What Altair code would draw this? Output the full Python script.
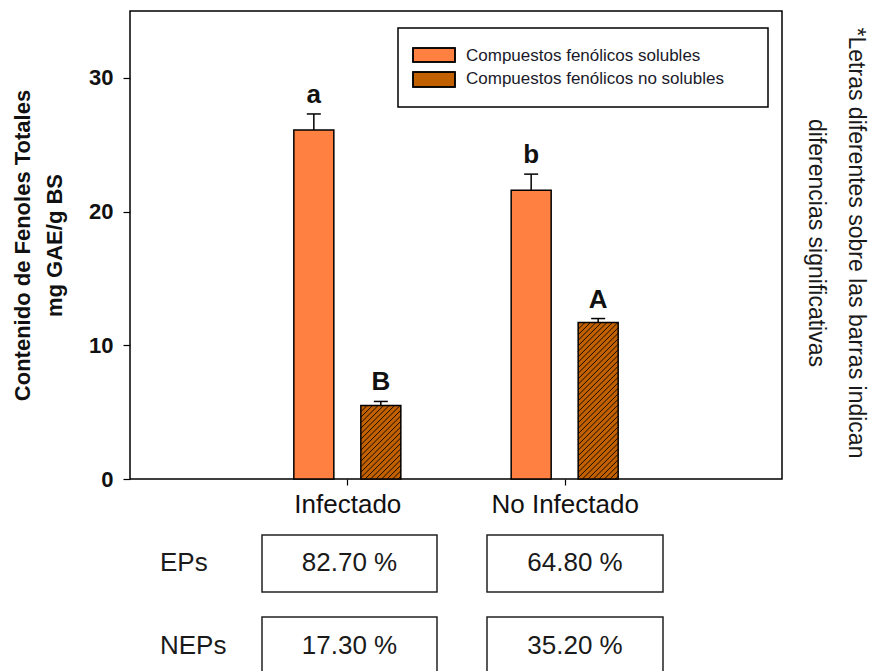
import json
import altair as alt
import pandas as pd

# ---------------- data ----------------
categories = ["Infectado", "No Infectado"]
series = ["Compuestos fenólicos solubles", "Compuestos fenólicos no solubles"]
soluble = [26.1, 21.6]
soluble_err = [1.2, 1.2]
insoluble = [5.5, 11.7]
insoluble_err = [0.3, 0.3]
letters_soluble = ["a", "b"]
letters_insoluble = ["B", "A"]
row_labels = ["EPs", "NEPs"]
eps_pct = ["82.70 %", "64.80 %"]
neps_pct = ["17.30 %", "35.20 %"]
y_ticks = [0, 10, 20, 30]
y_title = ["Contenido de Fenoles Totales", "mg GAE/g BS"]
side_note = ["*Letras diferentes sobre las barras indican", "diferencias significativas"]

# ---------------- layout / style ----------------
W, H = 652, 468
YMAX, XMAX = 35, 3
ux, uy = XMAX / W, YMAX / H
FONT = "Liberation Sans"
ORANGE, BROWN = "#ff8040", "#c06000"
BAR_W, OFF, CAP = 40, 33.5, 14
HATCH = 5.5


def X(px):
    return px * ux


def Y(py_down):
    return (H - py_down) * uy


def hatch(L, R, B, T, s):
    """diagonal '/' segments in a rectangle, pixel coords with y up"""
    w, h = R - L, T - B
    segs = []
    c = -w + (s / 2)
    while c < h:
        a = max(0.0, -c)
        b = min(w, h - c)
        if b > a:
            segs.append((L + a, B + a + c, L + b, B + b + c))
        c += s
    return segs


# bars
rows = []
for i, cat in enumerate(categories):
    pos = i + 1
    for j, (vals, errs, lets) in enumerate(
        [(soluble, soluble_err, letters_soluble), (insoluble, insoluble_err, letters_insoluble)]
    ):
        c = pos + (-1 if j == 0 else 1) * OFF * ux
        rows.append(dict(cat=cat, series=series[j], center=c,
                         x0=c - BAR_W / 2 * ux, x1=c + BAR_W / 2 * ux,
                         value=vals[i], top=vals[i] + errs[i], base=0.0,
                         cl=c - CAP / 2 * ux, cr=c + CAP / 2 * ux, letter=lets[i]))
bars = pd.DataFrame(rows)

hrows = []
for _, r in bars[bars.series == series[1]].iterrows():
    for (xa, ya, xb, yb) in hatch(r.x0 / ux, r.x1 / ux, 0.0, r.value / uy, HATCH):
        hrows.append(dict(x=xa * ux, y=ya * uy, x2=xb * ux, y2=yb * uy))
# legend swatch hatch (pixel coords, y down -> y up = -y)
SW = [(283, 325, 37, 51), (283, 325, 61, 76)]
for (xa, ya, xb, yb) in hatch(SW[1][0], SW[1][1], -SW[1][3], -SW[1][2], HATCH):
    hrows.append(dict(x=X(xa), y=Y(-ya), x2=X(xb), y2=Y(-yb)))
hatch_df = pd.DataFrame(hrows)

xs = alt.Scale(domain=[0, XMAX], nice=False, zero=False)
ys = alt.Scale(domain=[0, YMAX], nice=False, zero=False)
color = alt.Scale(domain=series, range=[ORANGE, BROWN])

label_expr = json.dumps([""] + categories) + "[datum.value]"

base = alt.Chart(bars)

fill = base.mark_rect(stroke=None).encode(
    x=alt.X("x0:Q", scale=xs, axis=alt.Axis(values=[1, 2], labelExpr=label_expr, title=None,
                                            grid=False, domain=False, tickSize=6, tickWidth=1.2,
                                            tickColor="black", labelFontSize=26, labelColor="#111",
                                            labelPadding=6, labelFont=FONT)),
    x2="x1:Q",
    y=alt.Y("value:Q", scale=ys, axis=alt.Axis(values=y_ticks, title=y_title, grid=False, domain=False,
                                               tickSize=7, tickWidth=1.2, tickColor="black",
                                               labelFontSize=22, labelFontWeight="bold", labelColor="#111",
                                               labelPadding=10, labelFont=FONT,
                                               titleFontSize=22, titleFontWeight="bold", titleColor="#111",
                                               titleFont=FONT, titleLineHeight=32, titlePadding=22)),
    y2="base:Q",
    fill=alt.Fill("series:N", scale=color, legend=None),
)

hatch_layer = alt.Chart(hatch_df).mark_rule(color="#1a0a00", strokeWidth=1).encode(
    x="x:Q", y="y:Q", x2="x2:Q", y2="y2:Q")

outline = base.mark_rect(fillOpacity=0, stroke="black", strokeWidth=1.5).encode(
    x="x0:Q", x2="x1:Q", y="value:Q", y2="base:Q")

err_v = base.mark_rule(color="black", strokeWidth=1.5).encode(x="center:Q", y="value:Q", y2="top:Q")
err_c = base.mark_rule(color="black", strokeWidth=1.5).encode(x="cl:Q", x2="cr:Q", y="top:Q")
letters = base.mark_text(dy=-11, fontSize=26, fontWeight="bold", font=FONT, baseline="alphabetic",
                         color="#111").encode(x="center:Q", y="top:Q", text="letter:N")

# legend (drawn in plot coordinates)
leg_box = pd.DataFrame([dict(x=X(268), x2=X(638), y=Y(17), y2=Y(96))])
legend_box = alt.Chart(leg_box).mark_rect(fill="white", stroke="black", strokeWidth=1.5).encode(
    x="x:Q", x2="x2:Q", y="y:Q", y2="y2:Q")
sw_df = pd.DataFrame([dict(series=s, x=X(a), x2=X(b), y=Y(c), y2=Y(d)) for s, (a, b, c, d) in zip(series, SW)])
legend_sw = alt.Chart(sw_df).mark_rect(stroke="black", strokeWidth=1.5).encode(
    x="x:Q", x2="x2:Q", y="y:Q", y2="y2:Q", fill=alt.Fill("series:N", scale=color, legend=None))
legend_sw_outline = alt.Chart(sw_df).mark_rect(fillOpacity=0, stroke="black", strokeWidth=1.5).encode(
    x="x:Q", x2="x2:Q", y="y:Q", y2="y2:Q")
lt_df = pd.DataFrame([dict(t=s, x=X(336), y=Y(yy)) for s, yy in zip(series, [45, 68])])
legend_txt = alt.Chart(lt_df).mark_text(align="left", baseline="middle", fontSize=17, font=FONT,
                                        color="#1a1a2a").encode(x="x:Q", y="y:Q", text="t:N")

# table under the axis
col_px = [(132, 307), (357, 533)]
row_px = [(524, 581, 552), (606, 700, 635)]
cells, texts = [], []
for r, (lab, vals) in enumerate(zip(row_labels, [eps_pct, neps_pct])):
    y0, y1, yc = row_px[r]
    texts.append(dict(t=lab, x=X(30), y=Y(yc), a="left"))
    for k, v in enumerate(vals):
        x0, x1 = col_px[k]
        cells.append(dict(x=X(x0), x2=X(x1), y=Y(y0), y2=Y(y1)))
        texts.append(dict(t=v, x=X((x0 + x1) / 2), y=Y(yc), a="center"))
cells_df = pd.DataFrame(cells)
tt = pd.DataFrame(texts)
table_boxes = alt.Chart(cells_df).mark_rect(fill="white", stroke="#222", strokeWidth=1.5).encode(
    x="x:Q", x2="x2:Q", y="y:Q", y2="y2:Q")
table_num = alt.Chart(tt[tt.a == "center"]).mark_text(align="center", baseline="middle", fontSize=26,
                                                       font=FONT, color="#1a1a1a").encode(
    x="x:Q", y="y:Q", text="t:N")
table_lab = alt.Chart(tt[tt.a == "left"]).mark_text(align="left", baseline="middle", fontSize=26,
                                                     font=FONT, color="#1a1a1a").encode(
    x="x:Q", y="y:Q", text="t:N")

# rotated side note
note_df = pd.DataFrame([dict(t="\n".join(side_note), x=X(726), y=Y(232))])
note = alt.Chart(note_df).mark_text(angle=90, align="center", baseline="middle", lineBreak="\n",
                                    lineHeight=40, fontSize=23, font=FONT, color="#1a1a1a").encode(
    x="x:Q", y="y:Q", text="t:N")

chart = alt.layer(
    fill, hatch_layer, outline, err_v, err_c, letters,
    legend_box, legend_sw, legend_sw_outline, legend_txt,
    table_boxes, table_num, table_lab, note,
).properties(
    width=W, height=H,
    autosize=alt.AutoSizeParams(type="none"),
    padding={"left": 122, "top": 3, "right": 90, "bottom": 200},
).configure(font=FONT).configure_view(stroke="black", strokeWidth=1.5)

chart.save("out.html", embed_options={"renderer": "svg", "actions": False})
